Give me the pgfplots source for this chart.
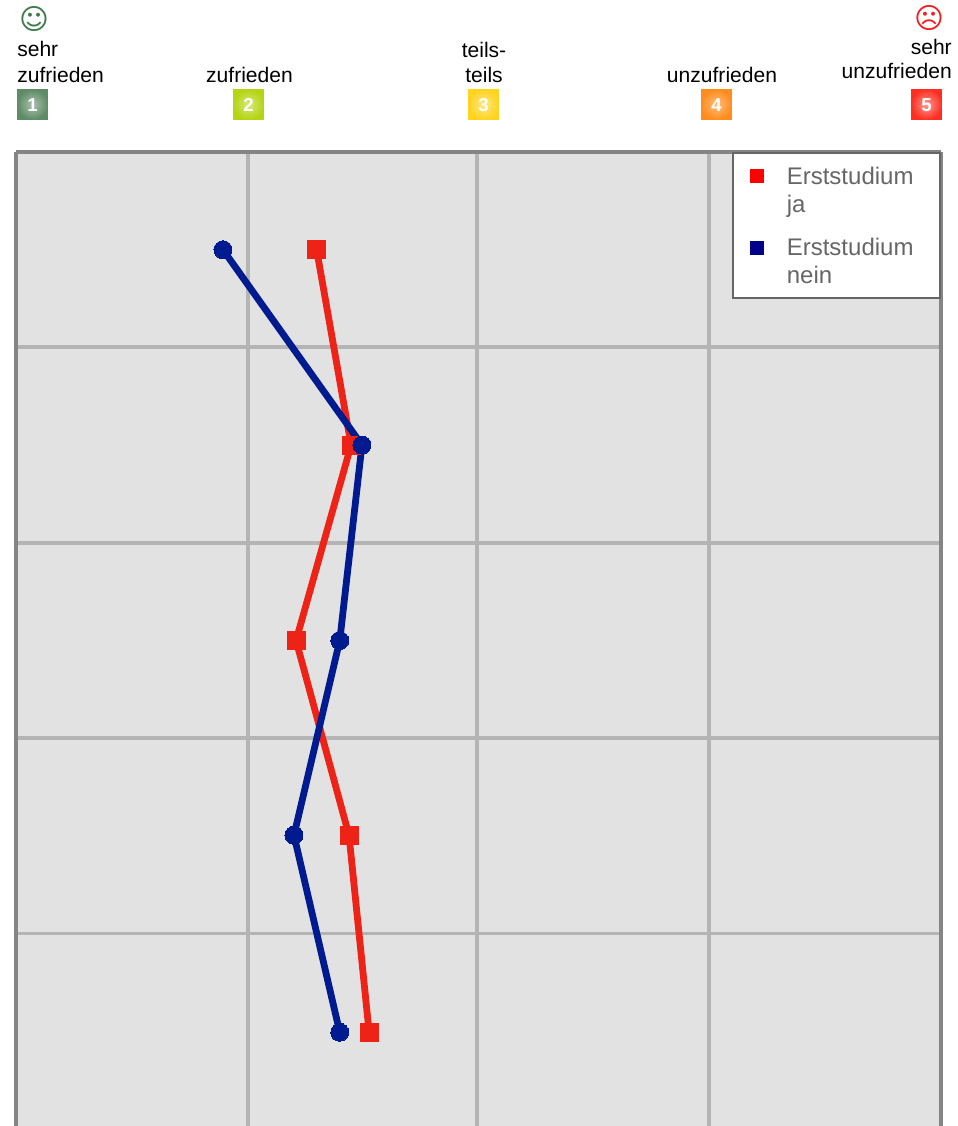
\documentclass[border=0pt]{standalone}
\usepackage{pgfplots}
\pgfplotsset{compat=1.18}
\usepackage{fontspec}
\setmainfont{Liberation Sans}
\newfontfamily\symfont{DejaVu Sans}
\definecolor{gridc}{HTML}{B4B4B4}
\definecolor{framec}{HTML}{858585}
\definecolor{bgc}{HTML}{E2E2E2}
\definecolor{redl}{HTML}{EE2318}
\definecolor{bluel}{HTML}{001A90}
\definecolor{legt}{HTML}{666666}
\definecolor{navyl}{HTML}{00008B}
\definecolor{ba}{HTML}{5E8C66}\definecolor{bai}{HTML}{A9C0AC}
\definecolor{bb}{HTML}{B4D414}\definecolor{bbi}{HTML}{D6E878}
\definecolor{bc}{HTML}{FFD31E}\definecolor{bci}{HTML}{FFE88A}
\definecolor{bd}{HTML}{FF8C1C}\definecolor{bdi}{HTML}{FFBE80}
\definecolor{be}{HTML}{FF2E22}\definecolor{bei}{HTML}{FF9A90}
\newcommand{\badge}[4]{%
  \fill[#3] (#1,89) rectangle ++(31,31);
  \shade[inner color=#4, outer color=#3] (#1+15.5,104.5) circle (15.3);
  \node[text=white,font=\fontsize{14}{14}\selectfont\bfseries] at (#1+15.5,105) {#2};
}
\begin{document}
\begin{tikzpicture}
\useasboundingbox (0pt,0pt) rectangle (717.75pt,-844.5pt);
\begin{axis}[
  at={(12pt,-114pt)}, anchor=north west,
  scale only axis, width=693.75pt, height=730.5pt,
  xmin=1, xmax=5, ymin=0, ymax=4.985, y dir=reverse,
  axis x line=top, axis y line=box,
  x axis line style={-,framec,line width=2.4pt},
  y axis line style={-,framec,line width=2.4pt},
  axis background/.style={fill=bgc},
  xtick={2.003,2.993,3.997}, ytick={1,2,3,4},
  xticklabels={}, yticklabels={},
  major tick length=0pt,
  grid=major, grid style={gridc,line width=2.9pt},
  clip=false,
  legend style={
    at={(1,1)}, anchor=north east, draw=legt, line width=1.3pt, fill=white,
    inner xsep=3.5pt, inner ysep=8.4pt,
    font=\fontsize{18}{20.8}\selectfont,
    text=legt,
    nodes={align=left, text width=109pt, inner sep=2.5pt, text depth=},
    row sep=10.6pt,
  },
  legend cell align=left,
]
\addplot[redl,line width=5.1pt,mark=square*,mark size=6.75pt,mark options={fill=redl,draw=redl,line width=0pt},
  legend image code/.code={\fill[red,draw=none] (0pt,6.75pt) rectangle (10.5pt,17.25pt);\path[draw=none] (-9.75pt,0pt) -- (24.75pt,0pt);}]
  coordinates {(2.30,0.50) (2.449,1.50) (2.211,2.50) (2.44,3.497) (2.527,4.505)};
\addlegendentry{Erststudium\\ja}
\addplot[bluel,line width=5.1pt,mark=*,mark size=6.75pt,mark options={fill=bluel,draw=bluel,line width=0pt},
  legend image code/.code={\fill[navyl,draw=none] (0pt,4.5pt) rectangle (10.5pt,15pt);\path[draw=none] (-9.75pt,0pt) -- (24.75pt,0pt);}]
  coordinates {(1.895,0.50) (2.496,1.50) (2.40,2.50) (2.202,3.497) (2.40,4.505)};
\addlegendentry{Erststudium\\nein}
\end{axis}
\begin{scope}[x=0.75pt,y=-0.75pt]
\node[text={rgb,255:red,62;green,122;blue,74},font=\symfont\fontsize{21.5}{22}\selectfont] at (34,19) {☺};
\node[text={rgb,255:red,240;green,30;blue,30},font=\symfont\fontsize{21.5}{22}\selectfont] at (929,18) {☹};
\def\lab{\fontsize{15.8}{17.5}\selectfont}
\node[anchor=base west,inner sep=0pt,font=\lab] at (17,56.5) {sehr};
\node[anchor=base west,inner sep=0pt,font=\lab] at (17,82.5) {zufrieden};
\node[anchor=base,inner sep=0pt,font=\lab] at (249.5,82.5) {zufrieden};
\node[anchor=base,inner sep=0pt,font=\lab] at (484,57.5) {teils-};
\node[anchor=base,inner sep=0pt,font=\lab] at (484,82.5) {teils};
\node[anchor=base,inner sep=0pt,font=\lab] at (722,82.5) {unzufrieden};
\node[anchor=base east,inner sep=0pt,font=\lab] at (952,55) {sehr};
\node[anchor=base east,inner sep=0pt,font=\lab] at (952,79) {unzufrieden};
\badge{17}{1}{ba}{bai}
\badge{233}{2}{bb}{bbi}
\badge{468}{3}{bc}{bci}
\badge{701}{4}{bd}{bdi}
\badge{911}{5}{be}{bei}
\end{scope}
\end{tikzpicture}
\end{document}
